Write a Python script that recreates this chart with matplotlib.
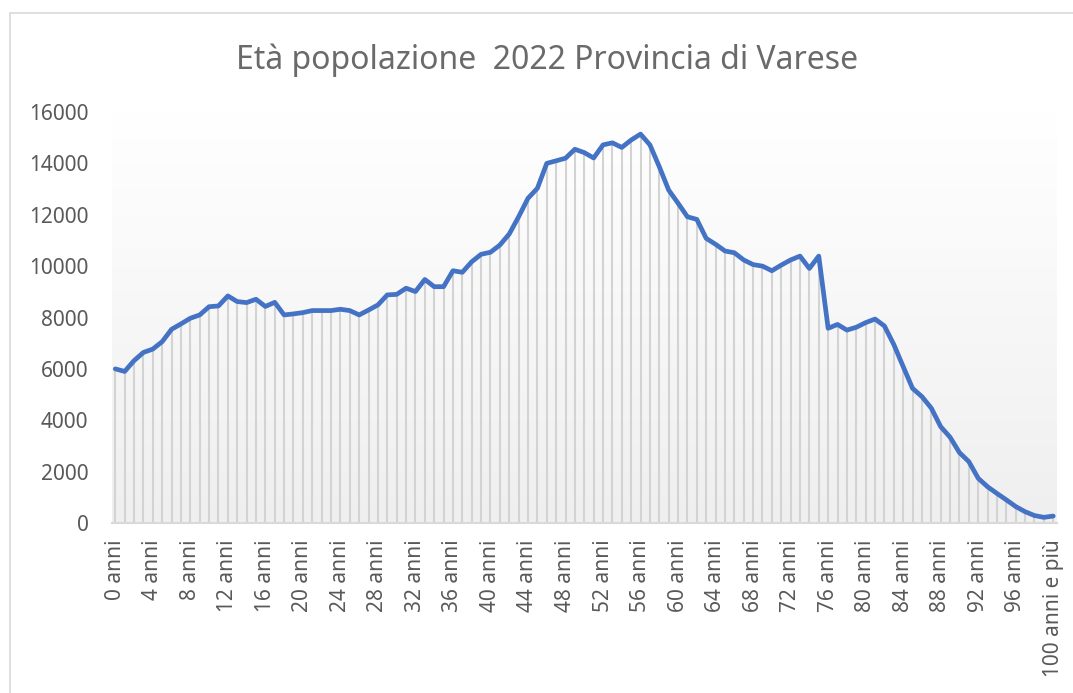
import numpy as np
import matplotlib
matplotlib.use("Agg")
from matplotlib import pyplot as plt
from matplotlib.patches import Rectangle

plt.rcParams['font.family'] = ['Noto Sans', 'DejaVu Sans']

title = "Età popolazione  2022 Provincia di Varese"
ages = list(range(0, 101))
labels = [str(a) + " anni" for a in ages[:-1]] + ["100 anni e più"]
popolazione = [
    6000, 5900, 6320, 6640, 6770, 7060, 7540, 7750, 7970, 8100,
    8420, 8450, 8840, 8620, 8580, 8710, 8430, 8590, 8100, 8140,
    8190, 8270, 8270, 8270, 8320, 8270, 8100, 8290, 8490, 8880,
    8900, 9140, 9010, 9480, 9200, 9200, 9820, 9760, 10170, 10460,
    10540, 10820, 11250, 11920, 12640, 13030, 14000, 14100, 14200, 14550,
    14420, 14210, 14720, 14800, 14620, 14910, 15140, 14720, 13870, 12960,
    12450, 11920, 11820, 11080, 10850, 10590, 10520, 10240, 10060, 10000,
    9820, 10040, 10240, 10390, 9910, 10390, 7580, 7730, 7510, 7620,
    7800, 7940, 7670, 6950, 6090, 5240, 4920, 4470, 3750, 3340,
    2740, 2390, 1740, 1410, 1150, 900, 640, 440, 290, 220,
    270]
yticks = [0, 2000, 4000, 6000, 8000, 10000, 12000, 14000, 16000]

x = np.arange(len(ages))
y = np.array(popolazione)

fig = plt.figure(figsize=(10.73, 6.93), dpi=100)
ax = fig.add_axes([112/1073, 170/693, 945/1073, 411/693])

# chart border
fig.patches.append(Rectangle((10/1073, -0.05), 1.1, 1 - 13/693 + 0.05,
                             transform=fig.transFigure, fill=False,
                             edgecolor="#d9d9d9", linewidth=1.2))

# plot area gradient: white on top, light grey at the bottom
x0, x1 = -0.35, 100.4
grad = np.linspace(0.0, 1.0, 256).reshape(-1, 1)
cmap = matplotlib.colors.LinearSegmentedColormap.from_list("g", ["#ffffff", "#efefef"])
ax.imshow(grad, extent=[x0, x1, 0, 16000], aspect="auto", cmap=cmap,
          vmin=0, vmax=1, zorder=0, origin="upper")

ax.vlines(x, 0, y, color="#d3d3d3", linewidth=1.5, zorder=1)
ax.plot(x, y, color="#4472C4", linewidth=3.4, solid_joinstyle="round",
        solid_capstyle="round", zorder=3)

ax.set_xlim(x0, x1)
ax.set_ylim(0, 16000)
for s in ["top", "right", "left"]:
    ax.spines[s].set_visible(False)
ax.spines["bottom"].set_color("#d9d9d9")
ax.spines["bottom"].set_linewidth(1.5)

ax.set_yticks(yticks)
ax.set_yticklabels([str(v) for v in yticks])
ax.set_xticks(x[::4])
ax.set_xticklabels(labels[::4], rotation=90, va="top", ha="center")
ax.tick_params(axis="y", length=0, pad=17, labelsize=15, labelcolor="#595959")
ax.tick_params(axis="x", length=0, pad=12, labelsize=15, labelcolor="#595959")

fig.text(547/1073, 1 - 60/693, title, ha="center", va="center",
         fontsize=23, color="#6a6a6a")

fig.savefig("out.png", dpi=100)
